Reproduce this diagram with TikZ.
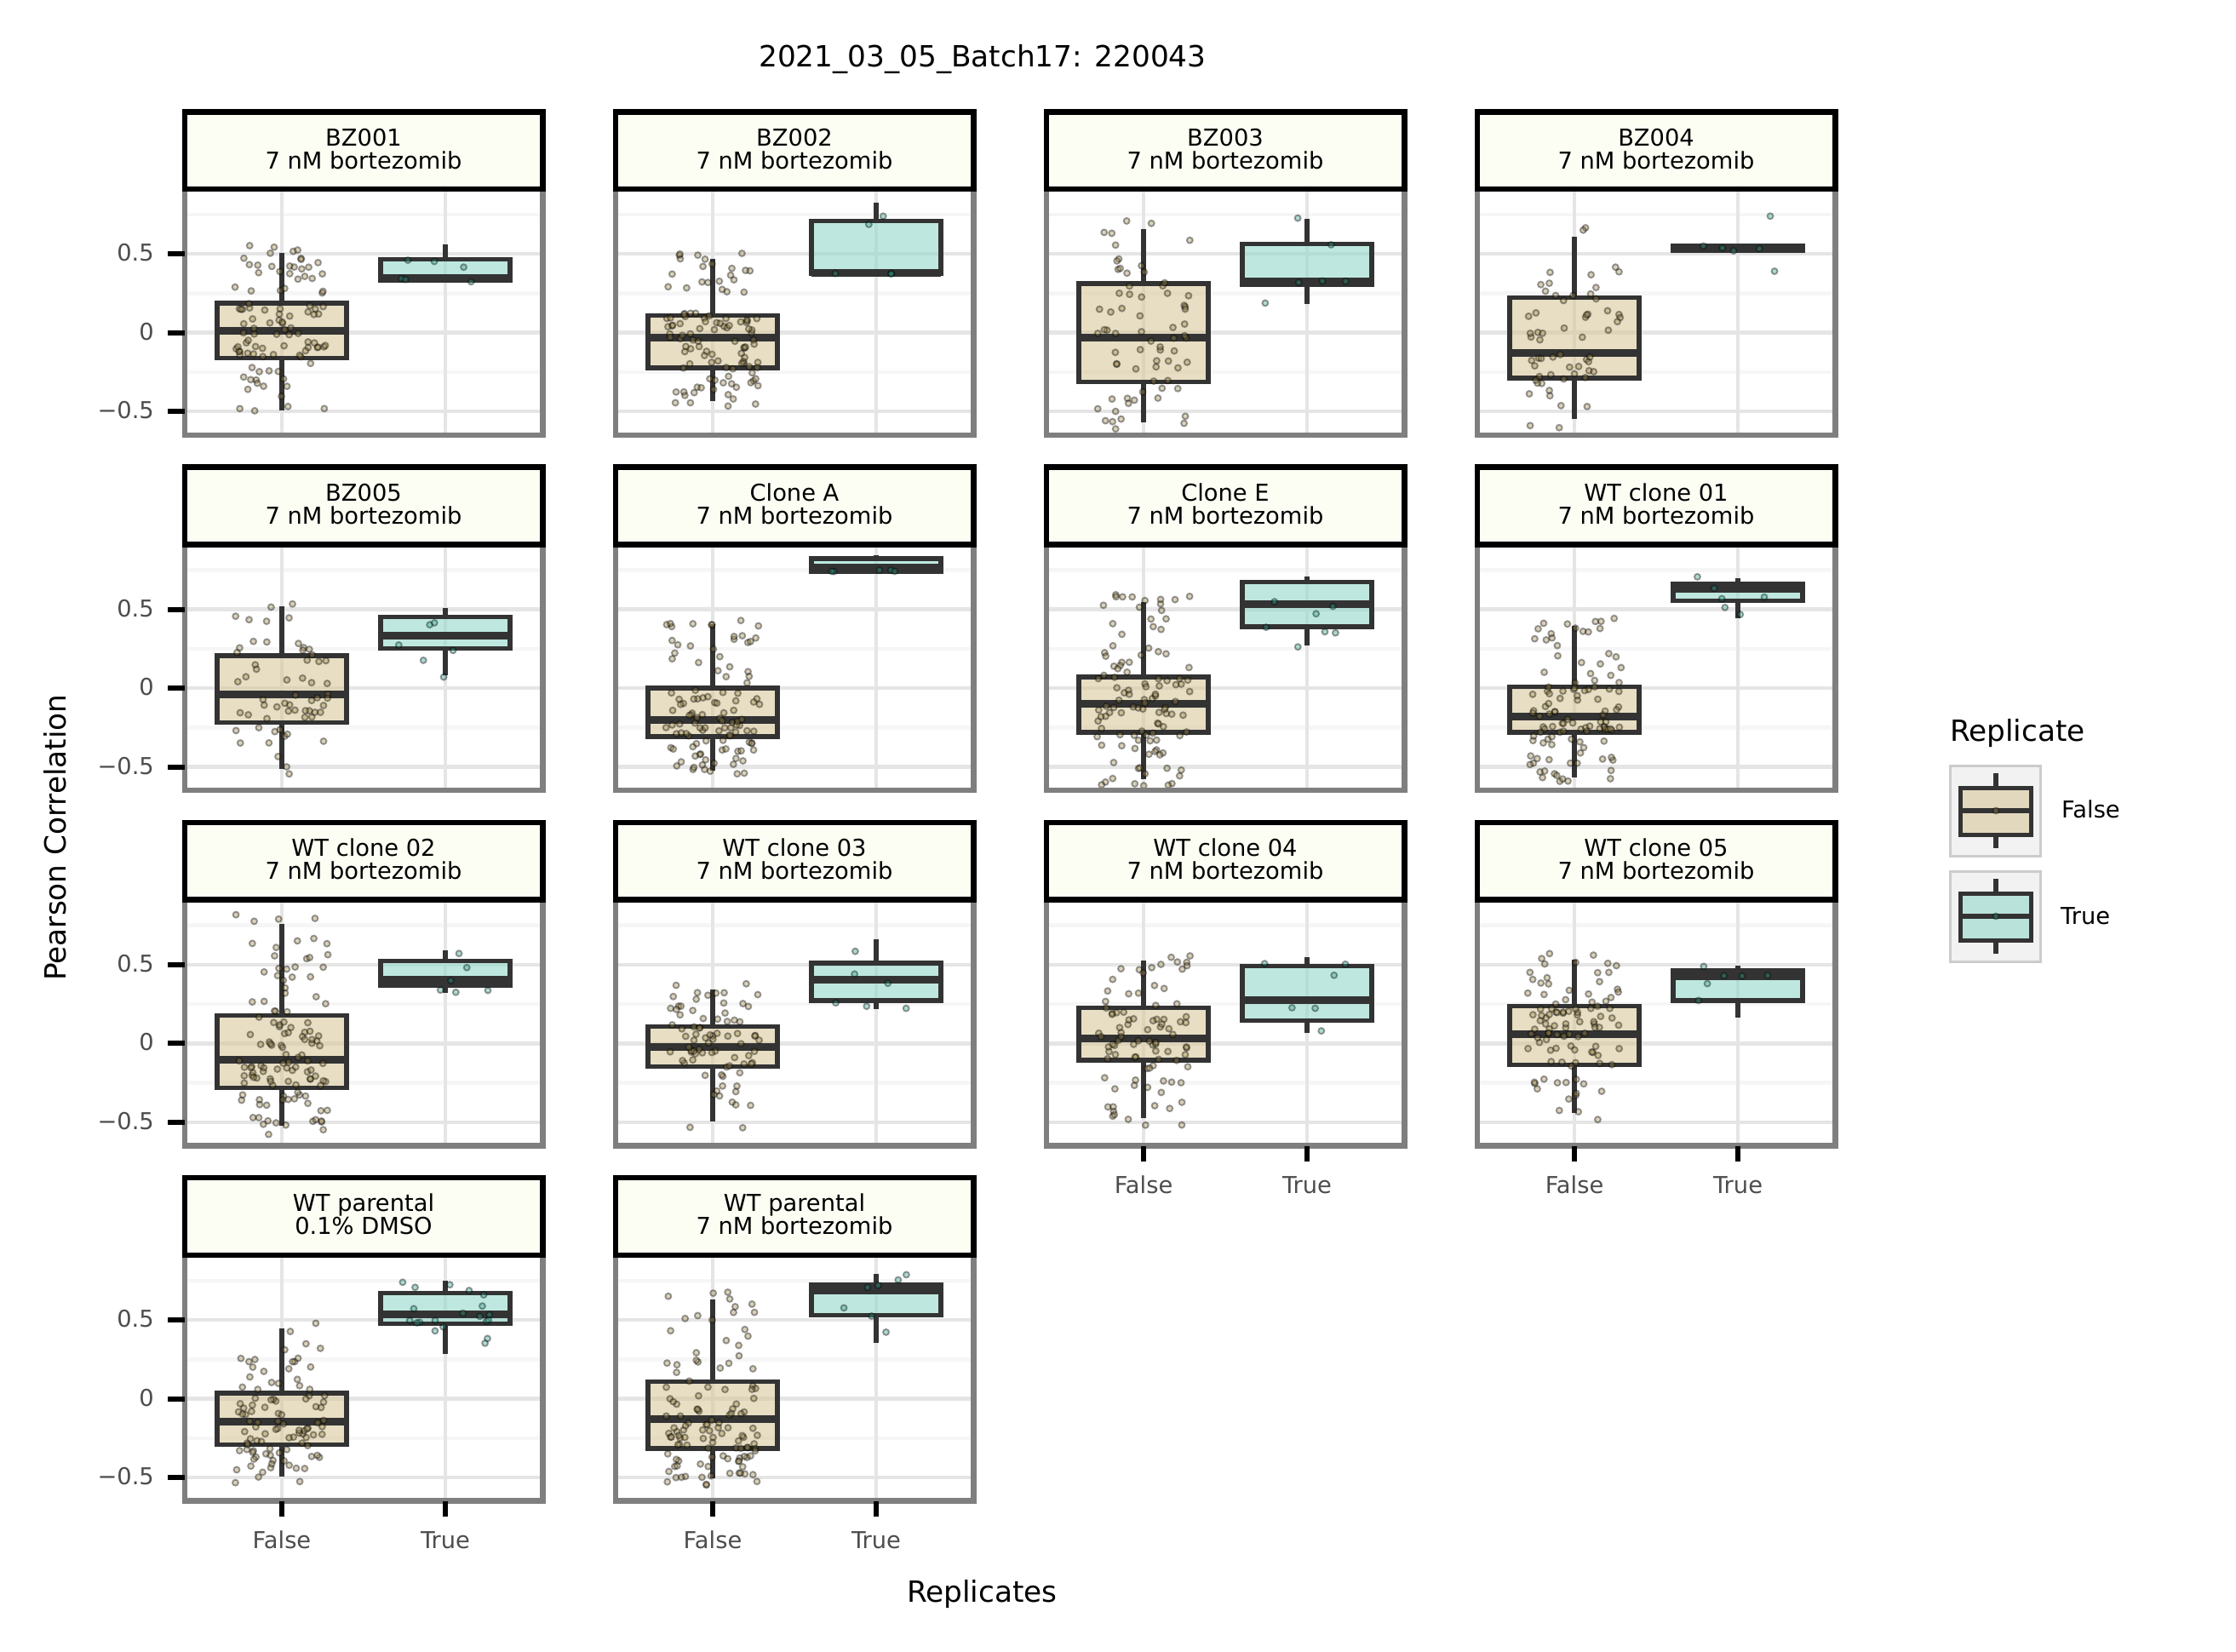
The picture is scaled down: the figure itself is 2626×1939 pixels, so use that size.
\documentclass[tikz,border=0pt]{standalone}
\usepackage{fontspec}
\setmainfont{DejaVu Sans}
\definecolor{gridmaj}{HTML}{E5E5E5}
\definecolor{gridmin}{HTML}{F6F6F6}
\definecolor{pbord}{HTML}{7F7F7F}
\definecolor{boxline}{HTML}{333333}
\definecolor{tanbase}{HTML}{D8C89C}
\definecolor{tealbase}{HTML}{94DACB}
\definecolor{tanpt}{HTML}{A08A4C}
\definecolor{tealpt}{HTML}{2F9F8C}
\definecolor{stripfill}{HTML}{FCFDF3}
\definecolor{ticktext}{HTML}{4D4D4D}
\definecolor{keybg}{HTML}{F2F2F2}
\definecolor{keybord}{HTML}{CCCCCC}
\tikzset{
 majgrid/.style={draw=gridmaj, line width=4.5pt},
 mingrid/.style={draw=gridmin, line width=4.5pt},
 panelbox/.style={draw=pbord, line width=6.5pt},
 stripbox/.style={draw=black, fill=stripfill, line width=6.5pt},
 whisk/.style={draw=boxline, line width=5.4pt},
 medline/.style={draw=boxline, line width=9pt},
 boxF/.style={draw=boxline, fill=tanbase, fill opacity=0.6, line width=5.4pt},
 boxT/.style={draw=boxline, fill=tealbase, fill opacity=0.6, line width=5.4pt},
 ptF/.style={draw=black, fill=tanpt, line width=1.9pt, opacity=0.38},
 ptT/.style={draw=black, fill=tealpt, line width=1.9pt, opacity=0.38},
 smalltxt/.style={font=\fontsize{27.3}{27.3}\selectfont, inner sep=0pt},
 bigtxt/.style={font=\fontsize{34.3}{34.3}\selectfont, inner sep=0pt},
 ticklab/.style={smalltxt, text=ticktext},
 tickmark/.style={draw=black, line width=6pt},
 keybox/.style={draw=keybord, fill=keybg, line width=2.5pt},
}
\def\parsestats#1,#2,#3,#4,#5,#6\relax{\def\slo{#1}\def\sqa{#2}\def\smed{#3}\def\sqc{#4}\def\shi{#5}\def\sn{#6}}
% #1 x centre, #2 y of zero, #3 stats lo,q1,med,q3,hi,n, #4 F or T
\newcommand\boxgrp[4]{%
 \parsestats#3\relax
 \pgfmathsetmacro\ylo{#2-185*(\slo)}%
 \pgfmathsetmacro\yqa{#2-185*(\sqa)}%
 \pgfmathsetmacro\ymed{#2-185*(\smed)}%
 \pgfmathsetmacro\yqc{#2-185*(\sqc)}%
 \pgfmathsetmacro\yhi{#2-185*(\shi)}%
 \pgfmathsetmacro\ext{0.05*((\shi)-(\slo))}%
 \pgfmathsetmacro\xa{#1-76}%
 \pgfmathsetmacro\xb{#1+76}%
 \draw[whisk] (#1,\yqc) -- (#1,\yhi);
 \draw[whisk] (#1,\yqa) -- (#1,\ylo);
 \draw[box#4] (\xa,\yqc) rectangle (\xb,\yqa);
 \draw[medline] (\xa,\ymed) -- (\xb,\ymed);
 \foreach \i in {1,...,\sn}{%
  \pgfmathsetmacro\uu{rnd}%
  \pgfmathsetmacro\vv{\uu<0.03 ? (\slo)-\ext*(0.03-\uu)/0.03 : (\uu<0.25 ? (\slo)+((\sqa)-(\slo))*(\uu-0.03)/0.22 : (\uu<0.5 ? (\sqa)+((\smed)-(\sqa))*(\uu-0.25)*4 : (\uu<0.75 ? (\smed)+((\sqc)-(\smed))*(\uu-0.5)*4 : (\uu<0.97 ? (\sqc)+((\shi)-(\sqc))*(\uu-0.75)/0.22 : (\shi)+\ext*(\uu-0.97)/0.03))))}%
  \pgfmathsetmacro\vv{max(-0.62,min(0.86,\vv))}%
  \pgfmathsetmacro\px{#1+55*rand}%
  \pgfmathsetmacro\py{#2-185*\vv}%
  \draw[pt#4] (\px,\py) circle[radius=3.5pt];
 }%
}
% #1 col, #2 row, #3 line1, #4 line2, #5 False stats, #6 True stats
\newcommand\panel[6]{%
 \pgfmathsetmacro\pL{213.5+506*(#1-1)}%
 \pgfmathsetmacro\pT{128+417.3*(#2-1)}%
 \pgfmathsetmacro\pZ{\pT+262.7}%
 \pgfmathsetmacro\pF{\pL+117.5}%
 \pgfmathsetmacro\pTr{\pL+309.5}%
 \pgfmathsetmacro\gxa{\pL+6.5}%
 \pgfmathsetmacro\gxb{\pL+420.5}%
 \pgfmathsetmacro\gya{\pT+97}%
 \pgfmathsetmacro\gyb{\pT+380}%
 \foreach \g in {-0.25,0.25,0.75}{\pgfmathsetmacro\gy{\pZ-185*\g}\draw[mingrid] (\gxa,\gy) -- (\gxb,\gy);}%
 \foreach \g in {-0.5,0,0.5}{\pgfmathsetmacro\gy{\pZ-185*\g}\draw[majgrid] (\gxa,\gy) -- (\gxb,\gy);}%
 \draw[majgrid] (\pF,\gya) -- (\pF,\gyb);
 \draw[majgrid] (\pTr,\gya) -- (\pTr,\gyb);
 \boxgrp{\pF}{\pZ}{#5}{F}%
 \boxgrp{\pTr}{\pZ}{#6}{T}%
 \pgfmathsetmacro\bxa{\pL+3.25}%
 \pgfmathsetmacro\bxb{\pL+423.75}%
 \pgfmathsetmacro\bya{\pT+3.25}%
 \pgfmathsetmacro\byb{\pT+94}%
 \pgfmathsetmacro\byc{\pT+382.75}%
 \pgfmathsetmacro\tx{\pL+213.5}%
 \pgfmathsetmacro\tya{\pT+43}%
 \pgfmathsetmacro\tyb{\pT+70}%
 \draw[panelbox] (\bxa,\byb) rectangle (\bxb,\byc);
 \draw[stripbox] (\bxa,\bya) rectangle (\bxb,\byb);
 \node[smalltxt, anchor=base] (s#1#2a) at (\tx,\tya) {#3};
 \node[smalltxt, anchor=base] (s#1#2b) at (\tx,\tyb) {#4};
}
\newcommand\yaxis[1]{%
 \pgfmathsetmacro\pZ{390.7+417.3*(#1-1)}%
 \pgfmathsetmacro\ya{\pZ-92.5}%
 \pgfmathsetmacro\yc{\pZ+92.5}%
 \pgfmathsetmacro\yal{\pZ-92.5+8.5}%
 \pgfmathsetmacro\ybl{\pZ+8.5}%
 \pgfmathsetmacro\ycl{\pZ+92.5+8.5}%
 \draw[tickmark] (197,\ya) -- (216.5,\ya);
 \draw[tickmark] (197,\pZ) -- (216.5,\pZ);
 \draw[tickmark] (197,\yc) -- (216.5,\yc);
 \node[ticklab, anchor=base east] (y#1a) at (181,\yal) {0.5};
 \node[ticklab, anchor=base east] (y#1b) at (181,\ybl) {0};
 \node[ticklab, anchor=base east] (y#1c) at (181,\ycl) {−0.5};
}
\newcommand\xaxis[2]{%
 \pgfmathsetmacro\pL{213.5+506*(#1-1)}%
 \pgfmathsetmacro\pB{128+417.3*(#2-1)+383}%
 \pgfmathsetmacro\xf{\pL+117.5}%
 \pgfmathsetmacro\xt{\pL+309.5}%
 \pgfmathsetmacro\pBt{\pB+18}%
 \pgfmathsetmacro\pBl{\pB+56}%
 \draw[tickmark] (\xf,\pB) -- (\xf,\pBt);
 \draw[tickmark] (\xt,\pB) -- (\xt,\pBt);
 \node[ticklab, anchor=base] (x#1#2a) at (\xf,\pBl) {False};
 \node[ticklab, anchor=base] (x#1#2b) at (\xt,\pBl) {True};
}
\begin{document}
\begin{tikzpicture}[x=1pt,y=-1pt]
\useasboundingbox (0,0) rectangle (2626,1939);
\fill[white] (0,0) rectangle (2626,1939);
\pgfmathsetseed{20210305}
\panel{1}{1}{BZ001}{7 nM bortezomib}{-0.494,-0.16,0.013,0.188,0.504,100}{0.33,0.33,0.345,0.465,0.558,6}
\panel{2}{1}{BZ002}{7 nM bortezomib}{-0.432,-0.223,-0.034,0.11,0.468,110}{0.37,0.374,0.38,0.709,0.824,5}
\panel{3}{1}{BZ003}{7 nM bortezomib}{-0.568,-0.311,-0.034,0.311,0.66,70}{0.182,0.303,0.328,0.562,0.723,6}
\panel{4}{1}{BZ004}{7 nM bortezomib}{-0.548,-0.288,-0.128,0.224,0.61,60}{0.52,0.52,0.535,0.55,0.55,4}
\draw[ptT] (2079,253.8) circle[radius=3.5pt];
\draw[ptT] (2084,318.5) circle[radius=3.5pt];
\panel{1}{2}{BZ005}{7 nM bortezomib}{-0.512,-0.218,-0.043,0.205,0.517,60}{0.079,0.25,0.335,0.452,0.506,6}
\panel{2}{2}{Clone A}{7 nM bortezomib}{-0.524,-0.308,-0.2,0,0.407,110}{0.741,0.741,0.766,0.822,0.842,5}
\panel{3}{2}{Clone E}{7 nM bortezomib}{-0.578,-0.281,-0.101,0.07,0.548,110}{0.268,0.389,0.53,0.674,0.706,7}
\panel{4}{2}{WT clone 01}{7 nM bortezomib}{-0.569,-0.281,-0.182,0.007,0.395,110}{0.445,0.553,0.63,0.662,0.699,6}
\panel{1}{3}{WT clone 02}{7 nM bortezomib}{-0.521,-0.281,-0.103,0.176,0.758,120}{0.322,0.365,0.405,0.522,0.591,6}
\panel{2}{3}{WT clone 03}{7 nM bortezomib}{-0.494,-0.148,-0.02,0.106,0.34,80}{0.218,0.272,0.407,0.51,0.663,6}
\panel{3}{3}{WT clone 04}{7 nM bortezomib}{-0.472,-0.106,0.029,0.227,0.524,90}{0.068,0.146,0.272,0.492,0.548,6}
\panel{4}{3}{WT clone 05}{7 nM bortezomib}{-0.44,-0.137,0.056,0.236,0.53,100}{0.164,0.272,0.425,0.461,0.492,6}
\panel{1}{4}{WT parental}{0.1\% DMSO}{-0.494,-0.291,-0.147,0.036,0.447,100}{0.287,0.476,0.534,0.672,0.75,20}
\panel{2}{4}{WT parental}{7 nM bortezomib}{-0.503,-0.315,-0.131,0.11,0.63,120}{0.356,0.53,0.685,0.726,0.794,7}
\yaxis{1}\yaxis{2}\yaxis{3}\yaxis{4}
\xaxis{3}{3}\xaxis{4}{3}\xaxis{1}{4}\xaxis{2}{4}
% titles
\node[bigtxt, anchor=base] (title) at (1154,78.6) {2021\_03\_05\_Batch17: 220043};
\node[bigtxt, anchor=base] (xlab) at (1153.4,1881) {Replicates};
\node[bigtxt, anchor=base, rotate=90] (ylab) at (77,983.5) {Pearson Correlation};
% legend
\node[bigtxt, anchor=base west] (legtitle) at (2290,870.7) {Replicate};
\draw[keybox] (2290.5,899.5) rectangle (2396.5,1005.5);
\draw[whisk] (2344,908) -- (2344,925.5);
\draw[whisk] (2344,980.5) -- (2344,996);
\draw[boxF] (2302.5,925.5) rectangle (2385.5,980.5);
\draw[whisk] (2302.5,952) -- (2385.5,952);
\draw[ptF] (2344,952) circle[radius=3.5pt];
\draw[keybox] (2290.5,1023.5) rectangle (2396.5,1129.5);
\draw[whisk] (2344,1032) -- (2344,1049.5);
\draw[whisk] (2344,1104.5) -- (2344,1120);
\draw[boxT] (2302.5,1049.5) rectangle (2385.5,1104.5);
\draw[whisk] (2302.5,1076) -- (2385.5,1076);
\draw[ptT] (2344,1076) circle[radius=3.5pt];
\node[smalltxt, anchor=base west] (legF) at (2421,960.7) {False};
\node[smalltxt, anchor=base west] (legT) at (2420,1085) {True};
\end{tikzpicture}
\end{document}
